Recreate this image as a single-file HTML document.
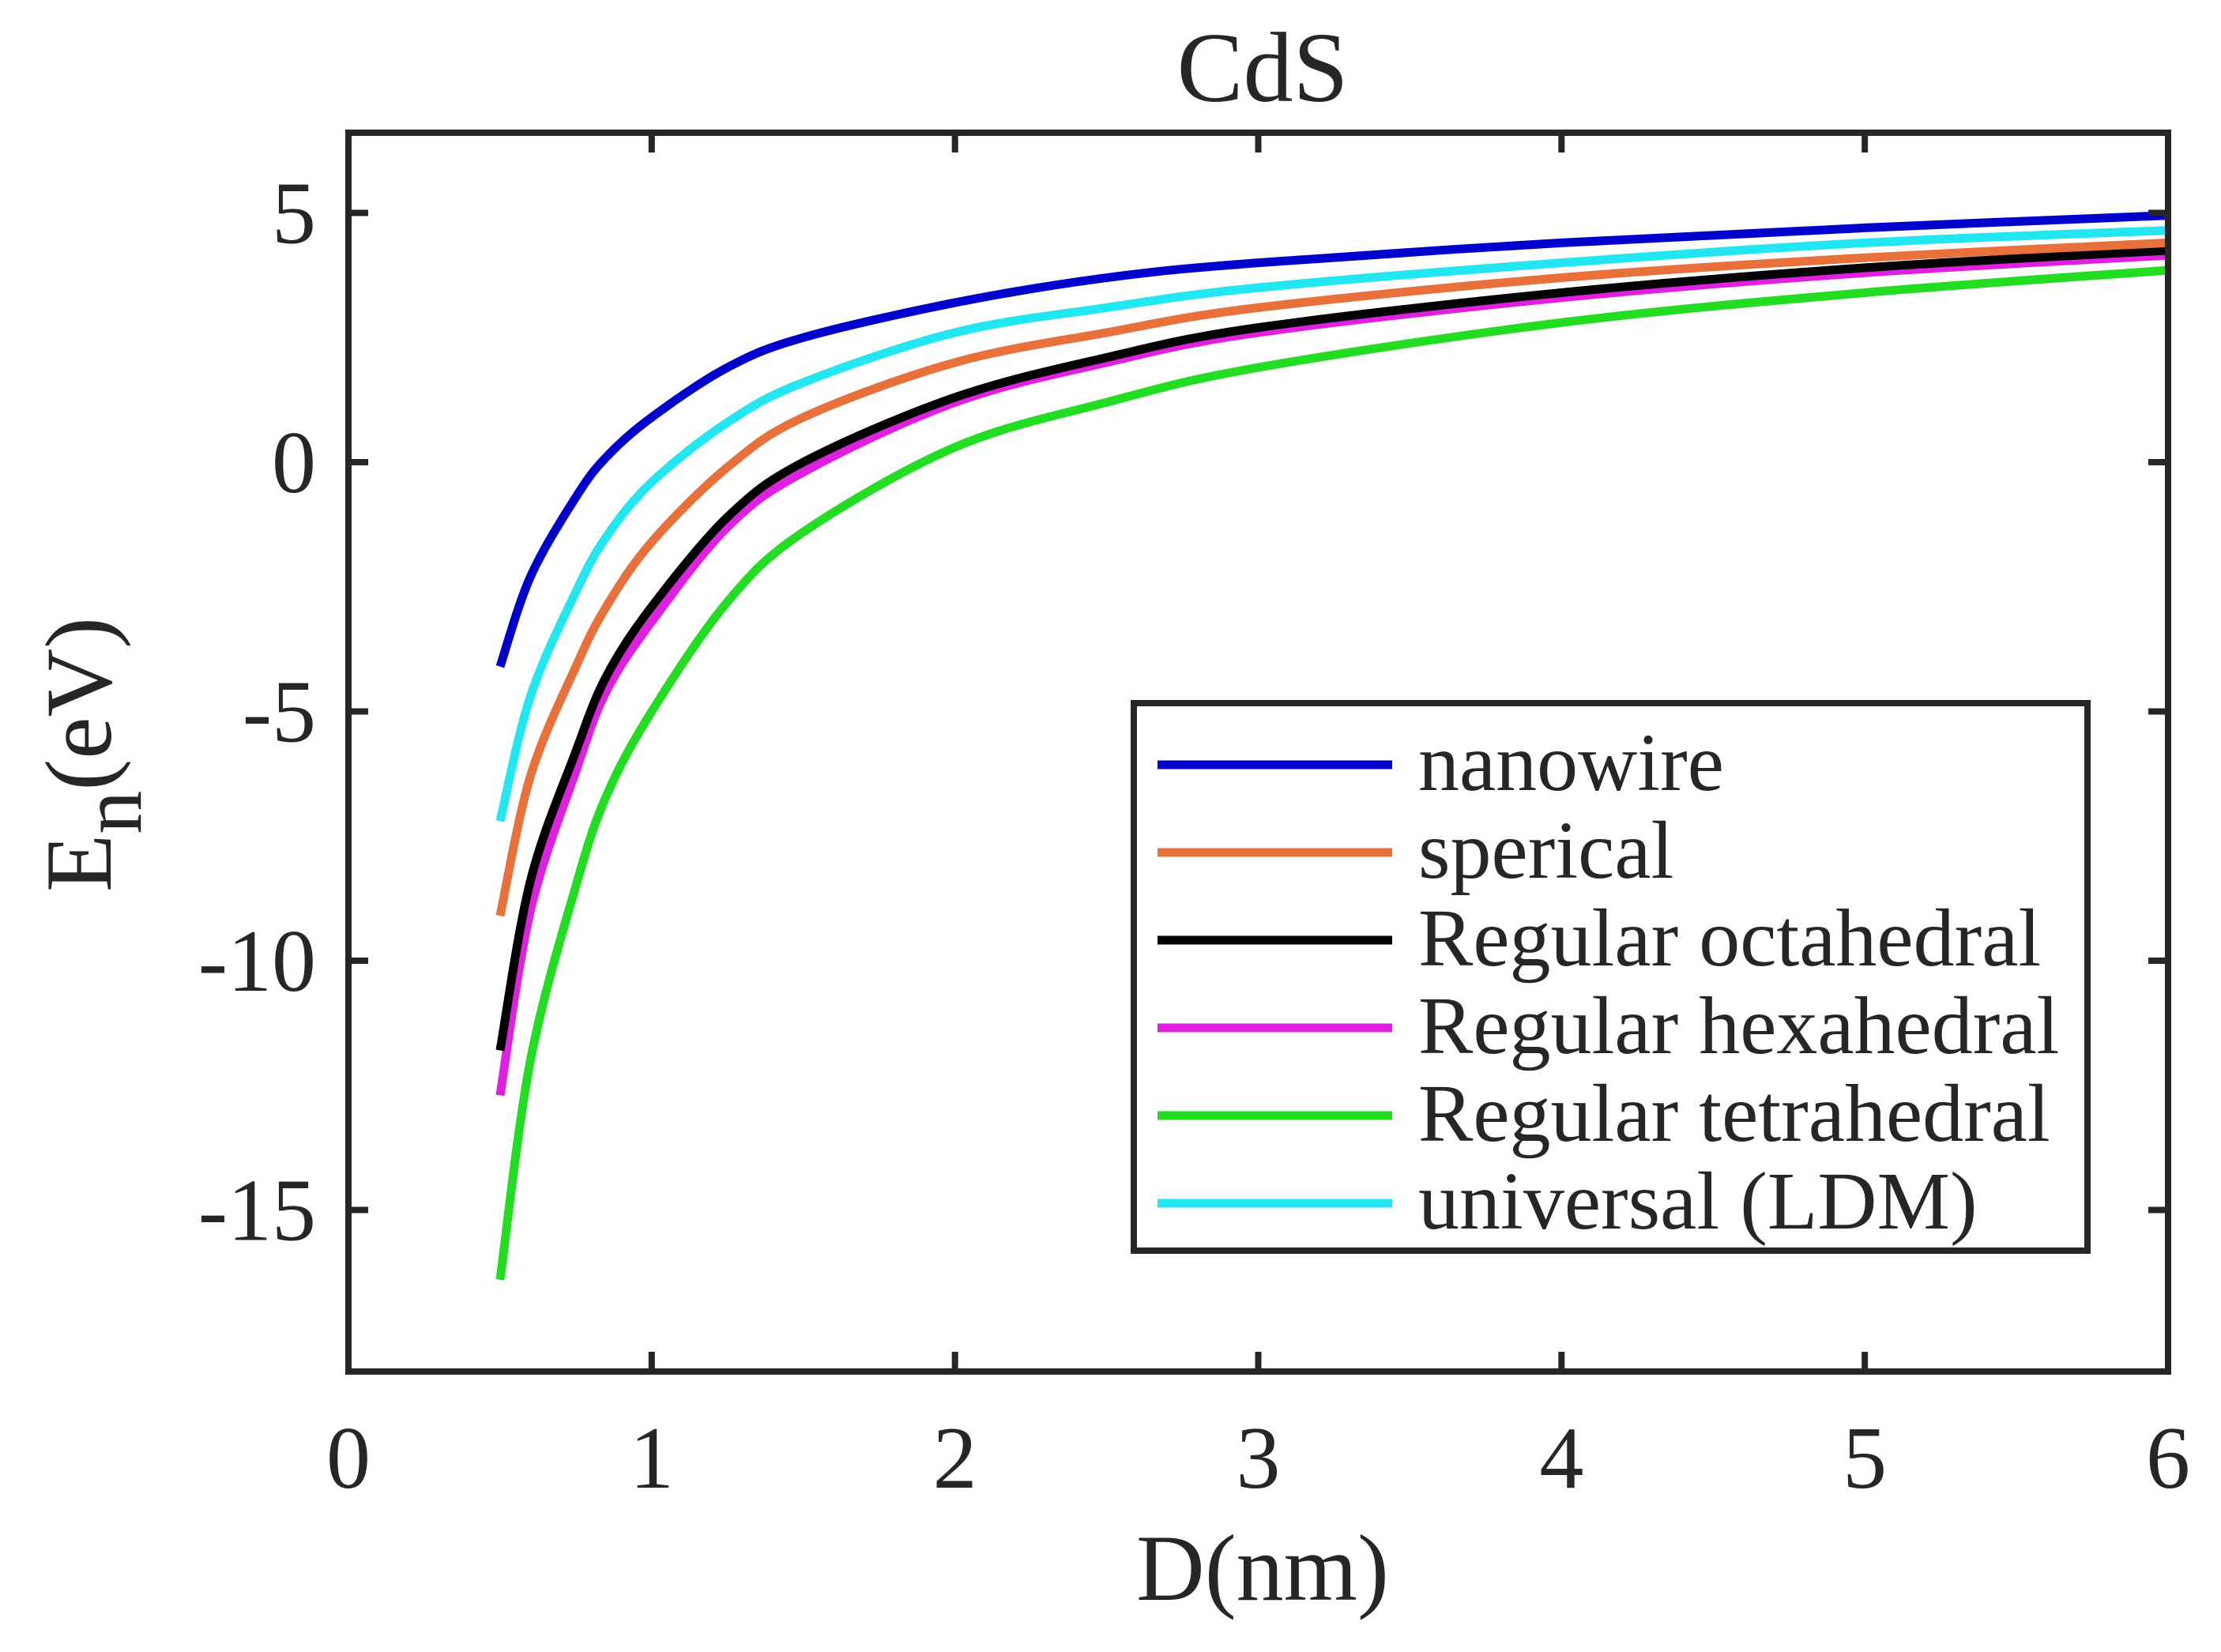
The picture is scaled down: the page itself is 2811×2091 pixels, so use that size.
<!DOCTYPE html>
<html><head><meta charset="utf-8">
<style>
html,body{margin:0;padding:0;background:#fff;}
svg{display:block;font-family:"Liberation Serif",serif;}
</style></head>
<body>
<svg id="chart" width="2811" height="2091" viewBox="0 0 2811 2091" xmlns="http://www.w3.org/2000/svg">
<rect width="2811" height="2091" fill="#fff"/>
<text x="1598" y="128" font-size="126" text-anchor="middle" fill="#262626">CdS</text>
<g id="series"></g>
<g id="axes"></g>
<text x="1598" y="2025" font-size="120" text-anchor="middle" fill="#262626">D(nm)</text>
<text transform="translate(140,955) rotate(-90)" font-size="120" text-anchor="middle" fill="#262626">E<tspan font-size="110" dy="38">n</tspan><tspan dy="-38">(eV)</tspan></text>
<g id="legend"></g>
</svg>
<script>
const xTicks = [0,1,2,3,4,5,6];
const yTicks = [5,0,-5,-10,-15];
const dValues = [0.5,0.6,0.75,0.85,1,1.25,1.5,2,2.5,3,4,5,6];
const seriesNames = ["nanowire","sperical","Regular octahedral","Regular hexahedral","Regular tetrahedral","universal (LDM)"];
const seriesColors = ["#0000cc","#e8703a","#000000","#e020e0","#22dd22","#22e6f0"];
const nanowire = [-4.1,-2.3,-0.7,0.1,0.9,1.9,2.5,3.2,3.7,4.0,4.4,4.7,4.95];
const sperical = [-9.1,-6.3,-4.1,-2.9,-1.6,-0.1,0.9,2.0,2.6,3.1,3.7,4.1,4.4];
const octahedral = [-11.8,-8.4,-5.8,-4.3,-2.9,-1.1,0.0,1.3,2.1,2.7,3.4,3.9,4.25];
const hexahedral = [-12.7,-9.0,-6.2,-4.6,-3.2,-1.3,-0.2,1.2,2.0,2.6,3.3,3.8,4.15];
const tetrahedral = [-16.4,-12.0,-8.5,-6.7,-5.0,-2.8,-1.4,0.3,1.2,1.9,2.8,3.4,3.85];
const universal = [-7.2,-4.7,-2.6,-1.5,-0.4,0.8,1.6,2.6,3.1,3.5,4.0,4.4,4.65];
const seriesValues = [nanowire,sperical,octahedral,hexahedral,tetrahedral,universal];

const L=441,R=2744,T=168,B=1736;
const xMin=0,xMax=6,yZero=585,yUnit=63.1;
function xs(v){return L+(v-xMin)/(xMax-xMin)*(R-L);}
function ys(v){return yZero - v*yUnit;}
const NS="http://www.w3.org/2000/svg";
function mk(tag,attrs,parent){const e=document.createElementNS(NS,tag);for(const k in attrs)e.setAttribute(k,attrs[k]);parent.appendChild(e);return e;}

const sg=document.getElementById('series');
const clip=mk('clipPath',{id:'clp'},sg);
mk('rect',{x:L,y:T,width:R-L,height:B-T},clip);
function smoothPath(pts){
  let d='M'+pts[0][0]+','+pts[0][1];
  for(let i=0;i<pts.length-1;i++){
    const p0=pts[i-1]||pts[i],p1=pts[i],p2=pts[i+1],p3=pts[i+2]||p2;
    const c1=[p1[0]+(p2[0]-p0[0])/6,p1[1]+(p2[1]-p0[1])/6];
    const c2=[p2[0]-(p3[0]-p1[0])/6,p2[1]-(p3[1]-p1[1])/6];
    d+=' C'+c1[0]+','+c1[1]+' '+c2[0]+','+c2[1]+' '+p2[0]+','+p2[1];
  }
  return d;
}
const order=[4,3,2,1,5,0];
order.forEach(i=>{
  const pts=dValues.map((d,j)=>[xs(d),ys(seriesValues[i][j])]);
  const p=mk('path',{d:smoothPath(pts),fill:'none',stroke:seriesColors[i],'stroke-width':11,'clip-path':'url(#clp)'},sg);
  
  
});

const ag=document.getElementById('axes');
xTicks.forEach(t=>{
  const x=xs(t);
  mk('line',{x1:x,y1:B,x2:x,y2:B-25,stroke:'#262626','stroke-width':8},ag);
  mk('line',{x1:x,y1:T,x2:x,y2:T+25,stroke:'#262626','stroke-width':8},ag);
  const tx=mk('text',{x:x,y:B+147,'font-size':112,'text-anchor':'middle',fill:'#262626'},ag);
  tx.textContent=t;
  
  
});
yTicks.forEach(t=>{
  const y=ys(t);
  mk('line',{x1:L,y1:y,x2:L+25,y2:y,stroke:'#262626','stroke-width':8},ag);
  mk('line',{x1:R,y1:y,x2:R-25,y2:y,stroke:'#262626','stroke-width':8},ag);
  const tx=mk('text',{x:400,y:y+38,'font-size':112,'text-anchor':'end',fill:'#262626'},ag);
  tx.textContent=t;
  
  
});
const frame=mk('rect',{x:L,y:T,width:R-L,height:B-T,fill:'none',stroke:'#262626','stroke-width':8},ag);



const lg=document.getElementById('legend');
const box=mk('rect',{x:1435,y:890,width:1207,height:693,fill:'#fff',stroke:'#262626','stroke-width':8},lg);


seriesNames.forEach((n,i)=>{
  const y=968+i*111;
  const g=mk('g',{},lg);
  
  
  mk('line',{x1:1465,y1:y,x2:1762,y2:y,stroke:seriesColors[i],'stroke-width':11},g);
  const tx=mk('text',{x:1795,y:y+32,'font-size':104,fill:'#262626'},g);
  tx.textContent=n;
});
</script>
</body></html>
